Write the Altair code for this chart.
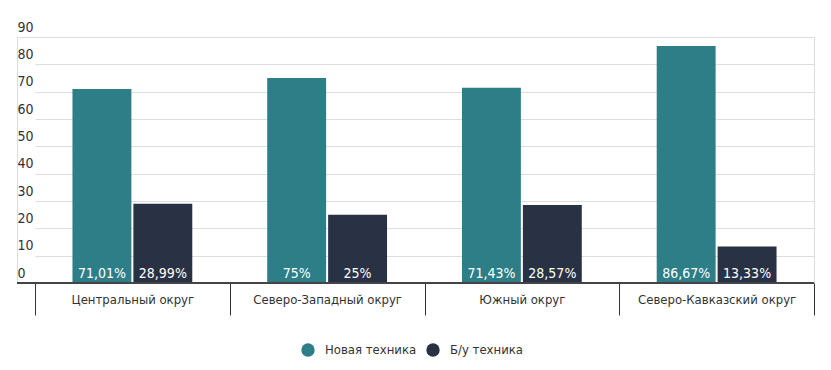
import altair as alt
import pandas as pd

regions = ["Центральный округ", "Северо-Западный округ", "Южный округ", "Северо-Кавказский округ"]
series = ["Новая техника", "Б/у техника"]
new_vals = [71.01, 75, 71.43, 86.67]
used_vals = [28.99, 25, 28.57, 13.33]
new_labels = ["71,01%", "75%", "71,43%", "86,67%"]
used_labels = ["28,99%", "25%", "28,57%", "13,33%"]
colors = ["#2d7e87", "#293244"]
y_ticks = [0, 10, 20, 30, 40, 50, 60, 70, 80, 90]

rows = []
for r, v, l in zip(regions, new_vals, new_labels):
    rows.append({"region": r, "type": series[0], "value": v, "label": l, "zero": 0})
for r, v, l in zip(regions, used_vals, used_labels):
    rows.append({"region": r, "type": series[1], "value": v, "label": l, "zero": 0})
df = pd.DataFrame(rows)

FONT = "DejaVu Sans Condensed, Roboto, sans-serif"
W, H = 797, 246

x_axis = alt.Axis(tickBand="extent", tickSize=32, tickColor="#333", tickWidth=1,
                  domain=False, labelAngle=0, labelPadding=-22,
                  labelFontSize=13, labelColor="#333", labelFont=FONT)
x_scale = alt.Scale(range=[18, W], paddingInner=0, paddingOuter=0)
y_axis = alt.Axis(values=y_ticks, domain=False, ticks=False, labelAlign="left",
                  labelPadding=0, labelBaseline="bottom", labelOffset=-3,
                  labelOverlap=False,
                  labelFontSize=14, labelColor="#333", labelFont=FONT,
                  grid=True, gridColor="#dddddd", gridWidth=1)
y_scale = alt.Scale(domain=[0, 90], nice=False)

x = alt.X("region:N", sort=regions, title=None, scale=x_scale, axis=x_axis)
xo = alt.XOffset("type:N", sort=series,
                 scale=alt.Scale(paddingInner=0.033, paddingOuter=0.615))

bars = alt.Chart(df).mark_bar().encode(
    x=x, xOffset=xo,
    y=alt.Y("value:Q", title=None, scale=y_scale, axis=y_axis),
    color=alt.Color("type:N", sort=series, scale=alt.Scale(domain=series, range=colors),
                    legend=alt.Legend(title=None, orient="none", legendX=284, legendY=306,
                                      direction="horizontal",
                                      symbolType="circle", symbolSize=180, labelFontSize=13,
                                      labelColor="#333", labelFont=FONT, labelOffset=10,
                                      columnPadding=9, symbolStrokeWidth=0)),
)

texts = alt.Chart(df).mark_text(color="white", fontSize=14, font=FONT, baseline="alphabetic",
                                dy=-5).encode(
    x=x, xOffset=xo,
    y=alt.Y("zero:Q", title=None, scale=y_scale, axis=y_axis),
    text="label:N",
)

rule_df = pd.DataFrame({"zero": [0]})
base_rule = alt.Chart(rule_df).mark_rule(color="#444", strokeWidth=2).encode(
    y=alt.Y("zero:Q", title=None, scale=y_scale, axis=y_axis),
    x=alt.value(0), x2=alt.value(W),
)

chart = alt.layer(bars, texts, base_rule).properties(
    width=W, height=H,
    padding={"left": 8, "top": 12, "right": 5, "bottom": 5},
).configure_view(stroke=None).configure(background="white")

chart.save("out.html", embed_options={"renderer": "svg", "actions": False})
